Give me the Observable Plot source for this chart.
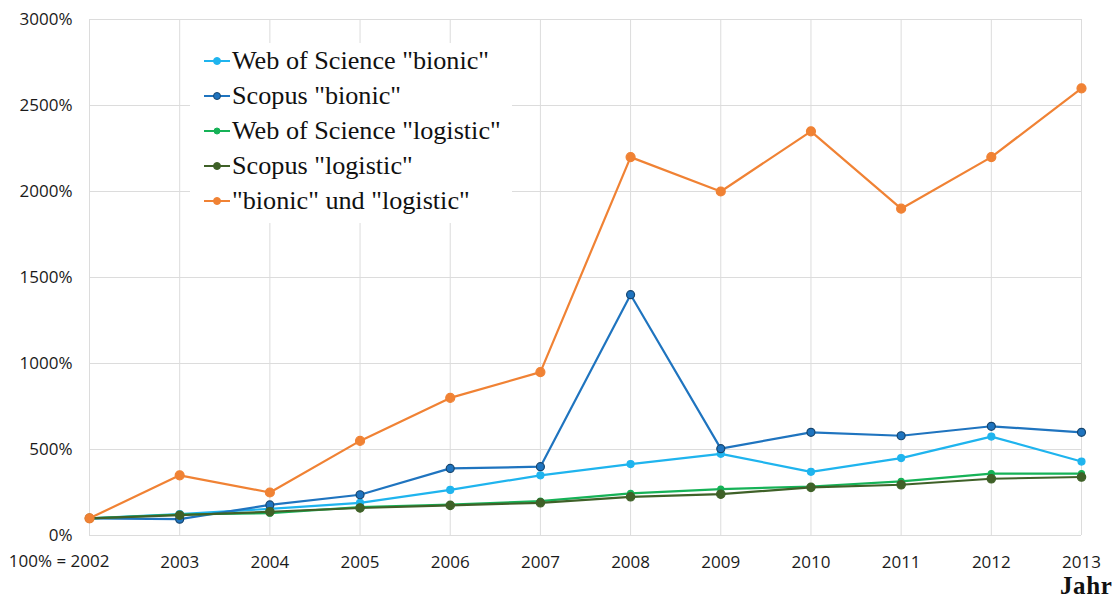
<!DOCTYPE html>
<html>
<head>
<meta charset="utf-8">
<script src="https://cdn.jsdelivr.net/npm/d3@7"></script>
<script src="https://cdn.jsdelivr.net/npm/@observablehq/plot@0.6"></script>
<style>
  html, body { margin: 0; padding: 0; background: #fff; }
  #wrap { position: relative; width: 1120px; height: 600px; }
  #wrap svg text { font-size: 17px; }
  #legend {
    position: absolute; left: 190px; top: 43px; width: 322px; height: 180px;
    background: #fff; font-family: "Liberation Serif", serif; font-size: 26.2px; color: #111;
  }
  #legend .row { position: absolute; left: 14px; height: 35px; display: flex; align-items: center; white-space: nowrap; }
  #legend svg { margin-right: 2px; }
  #xlabel {
    position: absolute; left: 1060px; top: 573px; font-family: "Liberation Serif", serif;
    font-weight: bold; font-size: 25px; line-height: 25px; color: #111; letter-spacing: 0.6px;
  }
</style>
</head>
<body>
<div id="wrap"></div>
<script>
// Relative publication counts, 2002 = 100%
const years = [2002, 2003, 2004, 2005, 2006, 2007, 2008, 2009, 2010, 2011, 2012, 2013];
const wosBionic      = [100, 125, 155, 190, 265, 350, 415, 475, 370, 450, 575, 430];
const scopusBionic   = [100,  95, 178, 237, 390, 400, 1400, 505, 600, 580, 635, 600];
const wosLogistic    = [100, 122, 130, 165, 180, 200, 245, 270, 285, 315, 360, 360];
const scopusLogistic = [100, 118, 138, 160, 175, 190, 225, 240, 280, 295, 330, 340];
const bionicLogistic = [100, 350, 250, 550, 800, 950, 2200, 2000, 2350, 1900, 2200, 2600];

const seriesNames = [
  'Web of Science "bionic"',
  'Scopus "bionic"',
  'Web of Science "logistic"',
  'Scopus "logistic"',
  '"bionic" und "logistic"'
];
const seriesValues = [wosBionic, scopusBionic, wosLogistic, scopusLogistic, bionicLogistic];
const seriesColors = ["#1fb4ee", "#1f74bf", "#16b257", "#3f6128", "#f08234"];
const markerStroke = ["#1fb4ee", "#17466f", "#16b257", "#3f6128", "#f08234"];
const markerRadius = [3.5, 4, 3, 4.2, 4.5];
const yTicks = [0, 500, 1000, 1500, 2000, 2500, 3000];

const rows = seriesNames.flatMap((name, i) =>
  years.map((year, j) => ({series: name, idx: i, year, value: seriesValues[i][j]}))
);

const lineMarks = seriesNames.map((name, i) =>
  Plot.line(rows.filter(d => d.idx === i), {
    x: "year", y: "value", stroke: seriesColors[i], strokeWidth: 2.2
  })
);
const dotMarks = seriesNames.map((name, i) =>
  Plot.dot(rows.filter(d => d.idx === i), {
    x: "year", y: "value", r: markerRadius[i], fill: seriesColors[i],
    stroke: markerStroke[i], strokeWidth: 1.2
  })
);
// interleave so each series' markers sit on its own line
const seriesMarks = lineMarks.flatMap((m, i) => [m, dotMarks[i]]);

const chart = Plot.plot({
  width: 1120,
  height: 600,
  marginLeft: 89,
  marginRight: 39,
  marginTop: 19,
  marginBottom: 65,
  style: {fontFamily: "'Open Sans', sans-serif", fontSize: "17px", color: "#1a1a1a", background: "#fff"},
  x: {domain: [2002, 2013], ticks: years, label: null},
  y: {domain: [0, 3000], ticks: yTicks, label: null},
  marks: [
    Plot.gridX(years, {stroke: "#dcdcdc", strokeOpacity: 1, strokeWidth: 1}),
    Plot.gridY(yTicks, {stroke: "#dcdcdc", strokeOpacity: 1, strokeWidth: 1}),
    Plot.axisY(yTicks, {tickSize: 0, tickPadding: 17, tickFormat: d => d + "%"}),
    Plot.axisX(years.slice(1), {tickSize: 0, tickPadding: 20, tickFormat: d => String(d)}),
    Plot.text([years[0]], {
      x: d => d, y: 0, text: d => "100% = " + d, textAnchor: "end",
      dx: 20, dy: 26, fill: "#1a1a1a"
    }),
    ...seriesMarks
  ]
});

const wrap = document.getElementById("wrap");
wrap.appendChild(chart);

// Legend box over the upper-left part of the plot
const legend = document.createElement("div");
legend.id = "legend";
seriesNames.forEach((name, i) => {
  const row = document.createElement("div");
  row.className = "row";
  row.style.top = (i * 35.2) + "px";
  row.innerHTML =
    `<svg width="26" height="12"><line x1="0" y1="6" x2="26" y2="6" stroke="${seriesColors[i]}" stroke-width="2"/>` +
    `<circle cx="13" cy="6" r="${Math.min(markerRadius[i], 3.5)}" fill="${seriesColors[i]}" stroke="${markerStroke[i]}" stroke-width="1"/></svg>` +
    `<span></span>`;
  row.querySelector("span").textContent = name;
  legend.appendChild(row);
});
wrap.appendChild(legend);

const xlabel = document.createElement("div");
xlabel.id = "xlabel";
xlabel.textContent = "Jahr";
wrap.appendChild(xlabel);
</script>
</body>
</html>
